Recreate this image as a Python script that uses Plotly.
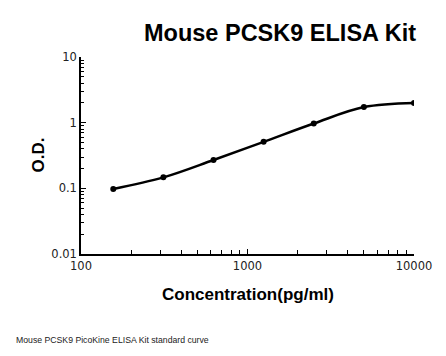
import plotly.graph_objects as go

conc = [156.25, 312.5, 625, 1250, 2500, 5000, 10000]
od = [0.098, 0.147, 0.27, 0.51, 0.97, 1.73, 2.0]

x_major = [100, 1000, 10000]
x_major_text = ["100", "1000", "10000"]
y_major = [0.01, 0.1, 1, 10]
y_major_text = ["0.01", "0.1", "1", "10"]

title_text = "Mouse PCSK9 ELISA Kit"
x_title = "Concentration(pg/ml)"
y_title = "O.D."
footnote = "Mouse PCSK9 PicoKine ELISA Kit standard curve"

x_minor = [m * 10 ** k for k in (2, 3) for m in range(2, 10)]
y_minor = [m * 10 ** k for k in (-2, -1, 0) for m in range(2, 10)]

font_main = "Liberation Sans, Arial, sans-serif"
font_tick = "DejaVu Sans, sans-serif"

fig = go.Figure()
fig.add_trace(go.Scatter(
    x=conc, y=od, mode="lines+markers",
    line=dict(color="black", width=2.5, shape="spline", smoothing=1.0),
    marker=dict(color="black", size=6),
    showlegend=False,
))

fig.update_layout(
    width=446, height=356,
    margin=dict(l=81, r=32, t=57, b=102),
    paper_bgcolor="white", plot_bgcolor="white",
    font=dict(family=font_main, color="black", size=11),
    xaxis=dict(
        type="log", range=[2, 4],
        tickmode="array", tickvals=x_major, ticktext=x_major_text,
        ticks="inside", ticklen=5, tickcolor="black",
        showline=True, linecolor="black", linewidth=1.5,
        showgrid=False, zeroline=False,
        tickfont=dict(size=11.5, color="#222", family=font_tick),
        minor=dict(tickmode="array", tickvals=x_minor, ticks="inside", ticklen=4,
                   tickcolor="black", showgrid=False),
    ),
    yaxis=dict(
        type="log", range=[-2, 1],
        tickmode="array", tickvals=y_major, ticktext=y_major_text,
        ticks="inside", ticklen=5, tickcolor="black",
        showline=True, linecolor="black", linewidth=1.5,
        showgrid=False, zeroline=False,
        tickfont=dict(size=11.5, color="#222", family=font_tick),
        minor=dict(tickmode="array", tickvals=y_minor, ticks="inside", ticklen=3,
                   tickcolor="black", showgrid=False),
    ),
    annotations=[
        dict(text="<b>" + title_text + "</b>", xref="paper", yref="paper",
             x=1.012, y=1.0, xanchor="right", yanchor="middle", yshift=24,
             showarrow=False, font=dict(size=23.5, family=font_main)),
        dict(text="<b>" + x_title + "</b>", xref="paper", yref="paper",
             x=0.5, y=0, xanchor="center", yanchor="middle", yshift=-40,
             showarrow=False, font=dict(size=17, family=font_main)),
        dict(text="<b>" + y_title + "</b>", xref="paper", yref="paper",
             x=0, y=0.5, xanchor="center", yanchor="middle", xshift=-43,
             textangle=-90, showarrow=False, font=dict(size=17, family=font_main)),
        dict(text=footnote, xref="paper", yref="paper",
             x=0, y=0, xanchor="left", yanchor="middle", xshift=-67, yshift=-86,
             showarrow=False, font=dict(size=8.7, family=font_main, color="#222")),
    ],
)

fig.write_html("out.html", config={"displayModeBar": False},
               post_script="document.body.style.margin='0';")
